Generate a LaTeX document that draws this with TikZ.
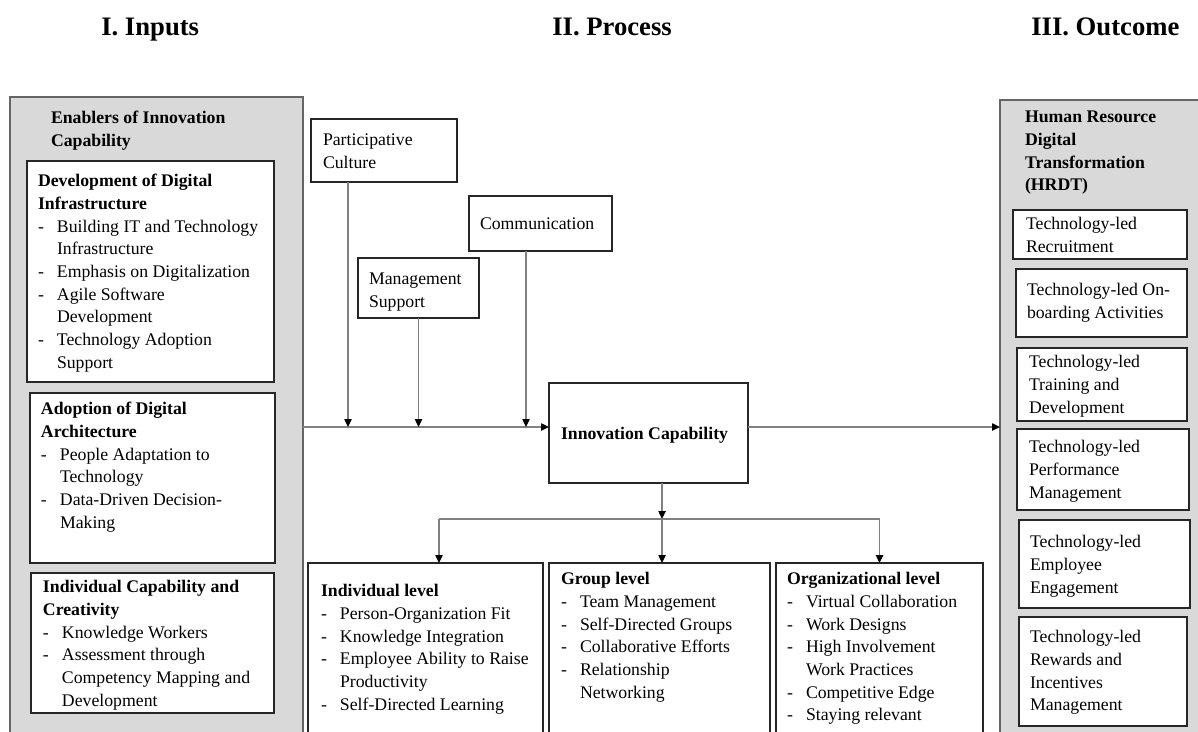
\documentclass[tikz,border=0pt]{standalone}
\usepackage{fontspec}
\setmainfont{Liberation Serif}
\usepackage{tikz}
\usetikzlibrary{positioning,arrows.meta}
\newlength{\unitpx}
\setlength{\unitpx}{0.75pt}
% width, height, left pad, top pad, content
\newcommand{\boxtext}[5]{\parbox[c][#2][t]{#1}{\raggedright\leftskip=#3\vspace*{#4}#5}}
\newcommand{\boxhead}[1]{\noindent\strut\textbf{#1}\par}
\newcommand{\ditem}{\par\hangindent=19\unitpx\hangafter=1\noindent\strut\makebox[19\unitpx][l]{-}}

\begin{document}
\begin{tikzpicture}[
  x=0.75pt, y=-0.75pt,
  every node/.style={font=\fontsize{13.3}{17}\selectfont},
  colhead/.style={anchor=base west, inner sep=0pt, font=\fontsize{20}{24}\selectfont\bfseries},
  panel/.style={draw=black!60, fill=black!15, line width=1pt, inner sep=0pt, outer sep=0pt, anchor=north west},
  tbox/.style={draw=black!85, fill=white, line width=1.2pt, inner sep=0pt, outer sep=0pt, anchor=north west},
  wire/.style={draw=black!50, line width=1pt},
  flow/.style={wire, -{Triangle[length=6pt, width=5.5pt, color=black]}}
]
  \useasboundingbox (0,0) rectangle (1198,731);

  % column headings
  \node[colhead] (inhead)   at (101,36)  {I. Inputs};
  \node[colhead] (prochead) at (552,36)  {II. Process};
  \node[colhead] (outhead)  at (1031,36) {III. Outcome};

  % inputs
  \node[panel] (inputs) at (10,97)
    {\boxtext{293\unitpx}{660\unitpx}{41\unitpx}{11\unitpx}{\boxhead{Enablers of Innovation\newline Capability}}};
  \node[tbox] (infra) at (27,161)
    {\boxtext{247\unitpx}{221\unitpx}{11\unitpx}{10\unitpx}{%
      \boxhead{Development of Digital\newline Infrastructure}%
      \ditem Building IT and Technology\newline Infrastructure
      \ditem Emphasis on Digitalization
      \ditem Agile Software\newline Development
      \ditem Technology Adoption\newline Support}};
  \node[tbox, below=11\unitpx of infra.south west, anchor=north west, xshift=3\unitpx] (archi)
    {\boxtext{245\unitpx}{170\unitpx}{11\unitpx}{6\unitpx}{%
      \boxhead{Adoption of Digital\newline Architecture}%
      \ditem People Adaptation to\newline Technology
      \ditem Data-Driven Decision-\newline Making}};
  \node[tbox, below=10\unitpx of archi.south west, anchor=north west, xshift=1\unitpx] (creat)
    {\boxtext{243\unitpx}{140\unitpx}{12\unitpx}{4\unitpx}{%
      \boxhead{Individual Capability and\newline Creativity}%
      \ditem Knowledge Workers
      \ditem Assessment through\newline Competency Mapping and\newline Development}};

  % process
  \node[tbox] (pc) at (311,119)
    {\boxtext{146\unitpx}{63\unitpx}{12\unitpx}{11\unitpx}{\strut Participative\newline Culture}};
  \node[tbox] (comm) at (469,196)
    {\boxtext{143\unitpx}{55\unitpx}{11\unitpx}{18\unitpx}{\strut Communication}};
  \node[tbox] (ms) at (358,258)
    {\boxtext{121\unitpx}{60\unitpx}{11\unitpx}{11\unitpx}{\strut Management\newline Support}};
  \node[tbox] (ic) at (549,383)
    {\boxtext{199\unitpx}{100\unitpx}{12\unitpx}{41\unitpx}{\boxhead{Innovation Capability}}};

  \node[tbox] (indiv) at (308,563)
    {\boxtext{235\unitpx}{190\unitpx}{13\unitpx}{18\unitpx}{%
      \boxhead{Individual level}%
      \ditem Person-Organization Fit
      \ditem Knowledge Integration
      \ditem Employee Ability to Raise\newline Productivity
      \ditem Self-Directed Learning}};
  \node[tbox, right=6\unitpx of indiv.north east, anchor=north west] (grp)
    {\boxtext{221\unitpx}{190\unitpx}{12\unitpx}{6\unitpx}{%
      \boxhead{Group level}%
      \ditem Team Management
      \ditem Self-Directed Groups
      \ditem Collaborative Efforts
      \ditem Relationship\newline Networking}};
  \node[tbox, right=6\unitpx of grp.north east, anchor=north west] (org)
    {\boxtext{207\unitpx}{190\unitpx}{11\unitpx}{6\unitpx}{%
      \boxhead{Organizational level}%
      \ditem Virtual Collaboration
      \ditem Work Designs
      \ditem High Involvement\newline Work Practices
      \ditem Competitive Edge
      \ditem Staying relevant}};

  % outcome
  \node[panel] (outcome) at (1000,100)
    {\boxtext{220\unitpx}{660\unitpx}{25\unitpx}{7\unitpx}{\boxhead{Human Resource\newline Digital\newline Transformation\newline (HRDT)}}};
  \node[tbox] (recruit) at (1013,210)
    {\boxtext{174\unitpx}{49\unitpx}{13\unitpx}{4\unitpx}{\strut Technology-led\newline Recruitment}};
  \node[tbox, below=10\unitpx of recruit.south west, anchor=north west, xshift=3\unitpx] (onboard)
    {\boxtext{171\unitpx}{68\unitpx}{11\unitpx}{11\unitpx}{\strut Technology-led On-\newline boarding Activities}};
  \node[tbox, below=11\unitpx of onboard.south west, anchor=north west, xshift=1\unitpx] (training)
    {\boxtext{170\unitpx}{73\unitpx}{12\unitpx}{4\unitpx}{\strut Technology-led\newline Training and\newline Development}};
  \node[tbox, below=8\unitpx of training.south west, anchor=north west] (perform)
    {\boxtext{172\unitpx}{81\unitpx}{12\unitpx}{8\unitpx}{\strut Technology-led\newline Performance\newline Management}};
  \node[tbox, below=10\unitpx of perform.south west, anchor=north west, xshift=2\unitpx] (engage)
    {\boxtext{171\unitpx}{88\unitpx}{11\unitpx}{12\unitpx}{\strut Technology-led\newline Employee\newline Engagement}};
  \node[tbox, below=9\unitpx of engage.south west, anchor=north west] (reward)
    {\boxtext{168\unitpx}{109\unitpx}{11\unitpx}{10\unitpx}{\strut Technology-led\newline Rewards and\newline Incentives\newline Management}};

  % connectors
  \coordinate (mainline) at (0,427);
  \coordinate (split) at (662,519);
  \coordinate (pcfoot) at ([xshift=37\unitpx]pc.south west);
  \coordinate (commfoot) at ([xshift=57\unitpx]comm.south west);
  \coordinate (indivfoot) at ([xshift=13.5\unitpx]indiv.north);

  \draw[flow] (inputs.east |- mainline) -- (ic.west |- mainline);
  \draw[flow] (pcfoot) -- (pcfoot |- mainline);
  \draw[flow] (ms.south) -- (ms.south |- mainline);
  \draw[flow] (commfoot) -- (commfoot |- mainline);
  \draw[flow] (ic.east |- mainline) -- (outcome.west |- mainline);

  \draw[flow] (ic.south -| split) -- (split);
  \draw[wire] (indivfoot |- split) -- (org.north |- split);
  \draw[flow] (indivfoot |- split) -- (indivfoot);
  \draw[flow] (split) -- (split |- grp.north);
  \draw[flow] (org.north |- split) -- (org.north);
\end{tikzpicture}
\end{document}
